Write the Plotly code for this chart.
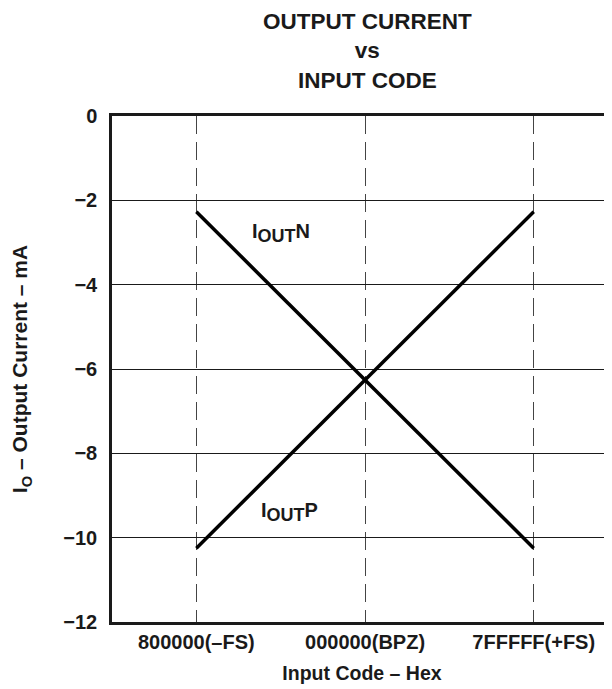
import plotly.graph_objects as go

codes = ["800000(–FS)", "000000(BPZ)", "7FFFFF(+FS)"]
iout_n_x = ["800000(–FS)", "7FFFFF(+FS)"]
iout_n_y = [-2.27, -10.25]
iout_p_x = ["800000(–FS)", "7FFFFF(+FS)"]
iout_p_y = [-10.25, -2.27]
y_ticks = [0, -2, -4, -6, -8, -10, -12]

FONT = "Liberation Sans, Arial, sans-serif"
INK = "#1a1a1a"

# the page body adds ~8px offset; figure sized to fit inside the window
W, H = 604, 681
L, T = 104, 108
PLOT_H = 506

fig = go.Figure()
fig.add_trace(go.Scatter(x=iout_n_x, y=iout_n_y, mode="lines",
                         line=dict(color="black", width=3.5), showlegend=False))
fig.add_trace(go.Scatter(x=iout_p_x, y=iout_p_y, mode="lines",
                         line=dict(color="black", width=3.5), showlegend=False))

lab_n = "I<sub><span style='font-size:18px'>OUT</span></sub>N"
lab_p = "I<sub><span style='font-size:18px'>OUT</span></sub>P"
fig.add_annotation(x=0.5, y=-2.77, xref="x", yref="y", text=lab_n,
                   showarrow=False, font=dict(family=FONT, size=20, color=INK, weight="bold"))
fig.add_annotation(x=0.555, y=-9.4, xref="x", yref="y", text=lab_p,
                   showarrow=False, font=dict(family=FONT, size=20, color=INK, weight="bold"))

fig.add_annotation(x=(367 - 8 - L) / (W - L), xref="paper",
                   y=1 + (T - 43) / PLOT_H, yref="paper",
                   text="OUTPUT CURRENT<br>vs<br>INPUT CODE", showarrow=False,
                   xanchor="center", yanchor="middle",
                   font=dict(family=FONT, size=22.5, color=INK, weight="bold"))

fig.update_layout(
    width=W, height=H,
    margin=dict(l=L, r=0, t=T, b=H - T - PLOT_H, autoexpand=False),
    paper_bgcolor="white", plot_bgcolor="white",
    font=dict(family=FONT, color=INK),
    xaxis=dict(
        type="category", categoryorder="array", categoryarray=codes,
        range=[-0.5, 2.464], automargin=False,
        showgrid=True, gridcolor="#444", gridwidth=1.3, griddash="18px,8px",
        showline=True, linecolor=INK, linewidth=2.5, mirror=True,
        ticks="", ticklabelstandoff=0,
        tickfont=dict(family=FONT, size=20, color=INK, weight="bold"),
        title=dict(text="Input Code – Hex",
                   font=dict(family=FONT, size=19.5, color=INK, weight="bold"),
                   standoff=15),
        zeroline=False,
    ),
    yaxis=dict(
        range=[-12, 0], tickvals=y_ticks, automargin=False,
        showgrid=True, gridcolor=INK, gridwidth=1.2,
        showline=True, linecolor=INK, linewidth=2.5,
        ticks="", ticklabelstandoff=8,
        tickfont=dict(family=FONT, size=20, color=INK, weight="bold"),
        title=dict(text="I<sub>O</sub> – Output Current – mA",
                   font=dict(family=FONT, size=21, color=INK, weight="bold"), standoff=30),
        zeroline=False,
    ),
)

fig.write_html("out.html")
